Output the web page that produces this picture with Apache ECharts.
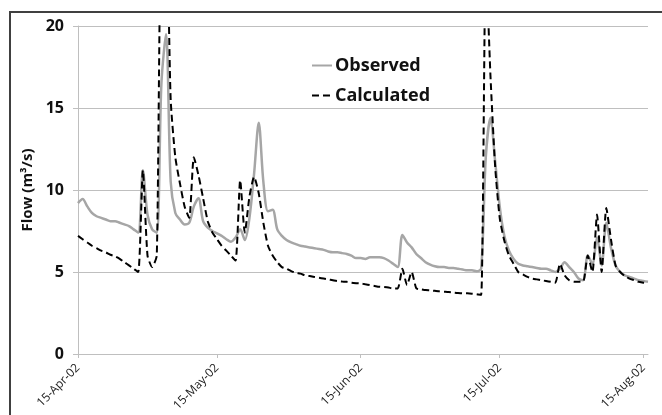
<!DOCTYPE html>
<html>
<head>
<meta charset="utf-8">
<script src="https://cdn.jsdelivr.net/npm/echarts@6/dist/echarts.min.js"></script>
<style>
html,body{margin:0;padding:0;background:#fff;}
#chart{width:662px;height:415px;}
</style>
</head>
<body>
<div id="chart"></div>
<script>
// Daily values starting 15-Apr-02 (day 0) through 16-Aug-02 (day 123)
const startDate = '15-Apr-02';
const observed = [
  9.2, 9.45, 9.0, 8.6, 8.4, 8.3, 8.2, 8.1, 8.1, 8.0,
  7.9, 7.8, 7.6, 7.4, 11.2, 8.5, 7.6, 7.4, 16.5, 19.5,
  10.5, 8.6, 8.2, 7.9, 8.0, 9.0, 9.5, 8.1, 7.7, 7.5,
  7.35, 7.2, 7.0, 6.85, 7.1, 7.6, 6.95, 8.3, 11.0, 14.1,
  10.5, 8.7, 8.8, 7.6, 7.2, 6.95, 6.8, 6.7, 6.6, 6.55,
  6.5, 6.45, 6.4, 6.35, 6.25, 6.2, 6.2, 6.15, 6.1, 6.0,
  5.85, 5.85, 5.8, 5.9, 5.9, 5.9, 5.85, 5.7, 5.5, 5.3,
  7.25, 6.8, 6.5, 6.1, 5.85, 5.6, 5.45, 5.35, 5.3, 5.3,
  5.25, 5.25, 5.2, 5.15, 5.1, 5.1, 5.05, 5.2, 12.0, 14.4,
  11.8, 9.0, 7.2, 6.3, 5.8, 5.5, 5.4, 5.35, 5.3, 5.25,
  5.2, 5.2, 5.1, 5.0, 5.2, 5.6, 5.3, 5.0, 4.6, 4.5,
  6.0, 5.5, 7.1, 5.4, 8.0, 6.5, 5.4, 5.0, 4.8, 4.7,
  4.6, 4.5, 4.45, 4.4
];
const calculated = [
  7.2, 7.0, 6.8, 6.6, 6.45, 6.3, 6.2, 6.05, 5.95, 5.8,
  5.6, 5.4, 5.2, 5.0, 11.2, 6.0, 5.3, 6.0, 26, 26,
  15.5, 12.0, 10.4, 9.0, 8.3, 12.0, 10.9, 9.5, 8.1, 7.4,
  7.0, 6.6, 6.3, 6.0, 5.7, 10.6, 7.4, 9.6, 10.8, 9.8,
  8.0, 6.6, 6.0, 5.6, 5.3, 5.2, 5.05, 4.95, 4.9, 4.8,
  4.75, 4.7, 4.65, 4.6, 4.55, 4.5, 4.45, 4.42, 4.4, 4.35,
  4.32, 4.3, 4.25, 4.2, 4.15, 4.1, 4.08, 4.05, 4.0, 4.0,
  5.2, 4.2, 5.0, 4.0, 3.95, 3.9, 3.88, 3.85, 3.82, 3.8,
  3.78, 3.75, 3.72, 3.7, 3.7, 3.68, 3.65, 3.6, 24, 17,
  11.5, 8.3, 6.9, 6.0, 5.5, 5.0, 4.85, 4.7, 4.6, 4.55,
  4.5, 4.45, 4.4, 4.35, 5.5, 4.8, 4.5, 4.4, 4.4, 4.4,
  6.0, 5.0, 8.5, 5.0, 8.9, 7.0, 5.4, 5.0, 4.75, 4.6,
  4.5, 4.4, 4.35, 4.3
];
const tickDays = [0, 30, 61, 91, 122];
const tickLabels = ['15-Apr-02', '15-May-02', '15-Jun-02', '15-Jul-02', '15-Aug-02'];
const yTicks = [0, 5, 10, 15, 20];
const seriesNames = ['Observed', 'Calculated'];
const yName = 'Flow (m\u00b3/s)';

const FONT = '"Open Sans", "DejaVu Sans", sans-serif';
const chart = echarts.init(document.getElementById('chart'), null, {renderer: 'canvas'});
const obsData = observed.map((v, i) => [i, v]);
const calData = calculated.map((v, i) => [i, v]);

chart.setOption({
  animation: false,
  backgroundColor: '#ffffff',
  textStyle: {fontFamily: FONT},
  graphic: [{
    type: 'rect',
    shape: {x: 10, y: 12, width: 700, height: 500},
    style: {fill: 'none', stroke: '#404040', lineWidth: 2},
    silent: true, z: 100
  }],
  grid: {left: 78, right: 14, top: 26, bottom: 61, containLabel: false},
  legend: {
    orient: 'vertical',
    left: 306, top: 50,
    itemWidth: 20, itemHeight: 10, itemGap: 9,
    itemStyle: {opacity: 0},
    textStyle: {fontSize: 18, fontWeight: 'bold', color: '#111', lineHeight: 21, fontFamily: FONT, padding: [0, 0, 0, -2]},
    data: seriesNames
  },
  xAxis: {
    type: 'value',
    min: 0, max: observed.length - 1,
    axisLine: {show: true, lineStyle: {color: '#bfbfbf', width: 1}},
    axisTick: {show: true, customValues: tickDays, length: 4, lineStyle: {color: '#bfbfbf'}},
    splitLine: {show: false},
    axisLabel: {
      customValues: tickDays,
      rotate: 45, margin: 12,
      fontSize: 12, color: '#222', fontFamily: FONT,
      formatter: v => tickLabels[tickDays.indexOf(Math.round(v))] || ''
    }
  },
  yAxis: {
    type: 'value',
    min: yTicks[0], max: yTicks[yTicks.length - 1], interval: 5,
    name: yName, nameLocation: 'middle', nameGap: 31, nameRotate: 90,
    nameTextStyle: {fontSize: 15, fontWeight: 'bold', color: '#111', fontFamily: FONT},
    axisLine: {show: true, lineStyle: {color: '#bfbfbf', width: 1}},
    axisTick: {show: true, length: 5, lineStyle: {color: '#bfbfbf'}},
    splitLine: {show: true, lineStyle: {color: '#bfbfbf', width: 1}},
    axisLabel: {margin: 14, fontSize: 16, fontWeight: 'bold', color: '#111', fontFamily: FONT}
  },
  series: [
    {
      name: seriesNames[0], type: 'line', data: obsData,
      showSymbol: false, symbol: 'none', smooth: 0.3, clip: true,
      lineStyle: {color: '#a6a6a6', width: 2.5},
      itemStyle: {color: '#a6a6a6'}, z: 2
    },
    {
      name: seriesNames[1], type: 'line', data: calData,
      showSymbol: false, symbol: 'none', smooth: 0.2, clip: true,
      lineStyle: {color: '#000', width: 2, type: [7, 4]},
      itemStyle: {color: '#000'}, z: 3
    }
  ]
});
</script>
</body>
</html>
